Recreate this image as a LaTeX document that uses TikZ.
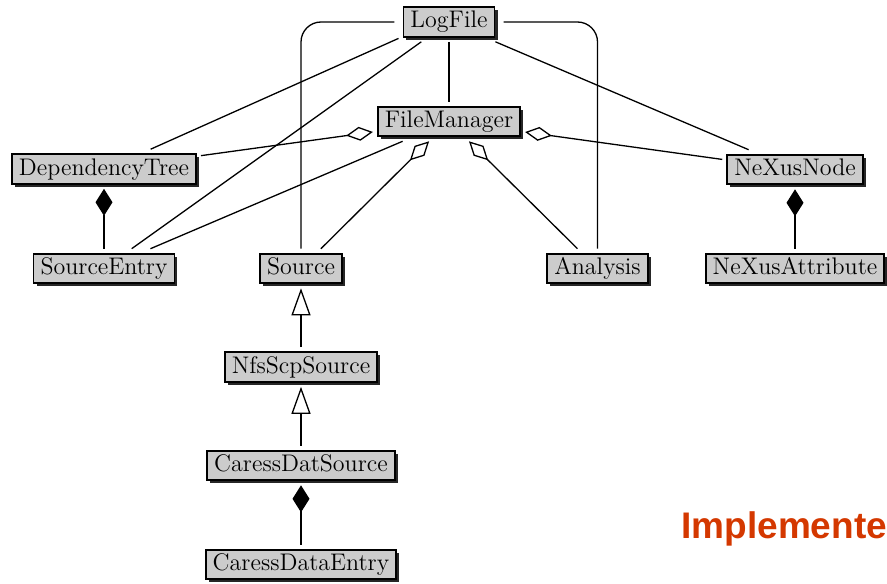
\documentclass[tikz,border=0pt]{standalone}
\usepackage{fontspec}
\usepackage{tikz}
\usetikzlibrary{arrows.meta,shadows}
\newfontfamily\slidefont{Liberation Sans}
\definecolor{slidered}{RGB}{212,56,0}

\begin{document}
\begin{tikzpicture}[x=0.5pt, y=-0.5pt,
  cls/.style={draw, line width=0.9pt, fill=black!20, font=\large,
    inner xsep=3.5pt, inner ysep=2pt, text height=8.4pt, text depth=2.4pt,
    outer sep=2.5pt,
    drop shadow={shadow xshift=1.5pt, shadow yshift=-1.5pt, fill=black!85, opacity=1}},
  assoc/.style={line width=0.65pt},
  aggr/.style={assoc, -{Diamond[open, length=13.5pt, width=7pt]}},
  comp/.style={assoc, -{Diamond[length=13.5pt, width=8.5pt]}},
  inherit/.style={assoc, -{Triangle[open, length=13.5pt, width=9.5pt]}}]
\useasboundingbox (0,0) rectangle (887,583);

% classes
\foreach \c/\x/\y in {LogFile/449/22, FileManager/449/121.5,
    DependencyTree/104/169, NeXusNode/795/169.5,
    SourceEntry/104/268.5, Source/301/268.5, Analysis/597.5/268.5,
    NeXusAttribute/795/268.5, NfsScpSource/301/367,
    CaressDatSource/301/465.5, CaressDataEntry/301/564.5} {
  \node[cls] (\c) at (\x,\y) {\c};
}

% LogFile associations
\draw[assoc] (LogFile.198) -- (DependencyTree.23);
\draw[assoc] (LogFile) -- (SourceEntry);
\draw[assoc] (LogFile) -- (FileManager);
\draw[assoc] (LogFile) -- (NeXusNode);
\draw[assoc, rounded corners=10pt] ([xshift=-2pt]LogFile.west) -| (Source.north);
\draw[assoc, rounded corners=10pt] ([xshift=2pt]LogFile.east) -| (Analysis.north);

% FileManager aggregations
\draw[aggr] (DependencyTree) -- (FileManager);
\draw[assoc] (SourceEntry) -- (FileManager);
\draw[aggr] (Source) -- (FileManager);
\draw[aggr] (Analysis) -- (FileManager);
\draw[aggr] (NeXusNode) -- (FileManager);

% compositions
\draw[comp] (SourceEntry) -- (DependencyTree);
\draw[comp] (NeXusAttribute) -- (NeXusNode);
\draw[comp] (CaressDataEntry) -- (CaressDatSource);

% inheritance
\draw[inherit] (NfsScpSource) -- (Source);
\draw[inherit] (CaressDatSource) -- (NfsScpSource);

\node[anchor=base west, inner sep=0pt, text=slidered,
  font={\slidefont\fontsize{18.5}{22}\selectfont\bfseries}] (impl) at (681,538) {Implemente};
\end{tikzpicture}
\end{document}
